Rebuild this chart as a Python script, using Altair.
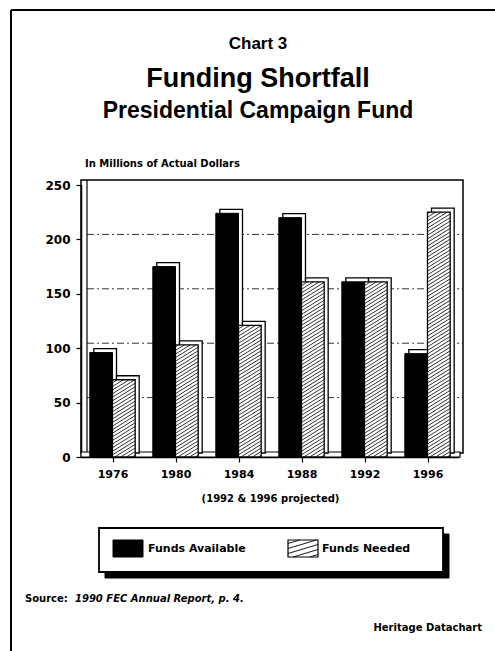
import altair as alt
import pandas as pd

# ---------------- data ----------------
years = ["1976", "1980", "1984", "1988", "1992", "1996"]
funds_available = [96, 175, 224, 220, 161, 95]
funds_needed = [71, 103, 121, 161, 161, 225]
y_ticks = [0, 50, 100, 150, 200, 250]
grid_values = [50, 100, 150, 200]
series_names = ["Funds Available", "Funds Needed"]

# ---------------- geometry / style ----------------
W, H = 378, 272
PL, PT = 81, 185
BW = 0.36          # bar width in slot units
DX, DY = 4, 4      # 3-D depth offset (px)
HATCH_RISE_PX = 14
HATCH_STEP_PX = 3.6
BOLD = "DejaVu Sans"
HEAD = "Liberation Sans"

pos = list(range(len(years)))
bars = pd.DataFrame({"pos": pos, "year": years,
                     "avail": funds_available, "need": funds_needed})
bars["a0"] = bars["pos"] - BW
bars["a1"] = bars["pos"]
bars["n0"] = bars["pos"]
bars["n1"] = bars["pos"] + BW
bars["base"] = 0

# hatch lines for "Funds Needed" bars (data units, derived from the values)
y_per_px = 250 / H
rise = HATCH_RISE_PX * y_per_px
step = HATCH_STEP_PX * y_per_px
rows = []
for _, r in bars.iterrows():
    h = r["need"]
    c = -rise + step / 2
    while c < h:
        xa, ya = r["n0"], c
        xb, yb = r["n1"], c + rise
        if ya < 0:
            xa = r["n0"] + (-c) / rise * BW
            ya = 0
        if yb > h:
            xb = r["n0"] + (h - c) / rise * BW
            yb = h
        if xb > xa:
            rows.append({"xa": xa, "xb": xb, "ya": ya, "yb": yb})
        c += step
hatch = pd.DataFrame(rows)

grid = pd.DataFrame({"v": grid_values})

xs = alt.Scale(domain=[-0.5, 5.5], nice=False, zero=False)
ys = alt.Scale(domain=[0, 250], nice=False)

label_expr = "[" + ",".join("'%s'" % y for y in years) + "][datum.value]"
x_axis = alt.Axis(values=pos, labelExpr=label_expr, title="(1992 & 1996 projected)",
                  grid=False, domain=True, domainColor="black", domainWidth=1.5,
                  ticks=True, tickSize=5, tickColor="black", tickWidth=1.2,
                  labelFont=BOLD, labelFontWeight="bold", labelFontSize=11,
                  labelColor="black", labelPadding=6, labelFlush=False,
                  titleFont=BOLD, titleFontWeight="bold", titleFontSize=10,
                  titleColor="black", titlePadding=14)
y_axis = alt.Axis(values=y_ticks, title=None, grid=False, domain=True,
                  domainColor="black", domainWidth=1.5, ticks=True, tickSize=5,
                  tickColor="black", tickWidth=1.2, labelFont=BOLD,
                  labelFontWeight="bold", labelFontSize=12, labelColor="black",
                  labelPadding=6)

one = alt.Data(values=[{"k": 1}])


def text(txt, x, y, size, align="center", font=BOLD, style="normal"):
    return alt.Chart(one).mark_text(
        text=txt, align=align, baseline="middle", font=font, fontSize=size,
        fontWeight="bold", fontStyle=style, color="black"
    ).encode(x=alt.value(x), y=alt.value(y))


def box(x, x2, y, y2, fill=None, stroke="black", sw=1.5):
    kw = dict(stroke=stroke, strokeWidth=sw)
    if fill is None:
        kw["fillOpacity"] = 0
        kw["fill"] = "white"
    else:
        kw["fill"] = fill
    return alt.Chart(one).mark_rect(**kw).encode(
        x=alt.value(x), x2=alt.value(x2), y=alt.value(y), y2=alt.value(y2))


def rule(x, x2, y, y2, sw=1.5):
    return alt.Chart(one).mark_rule(color="black", strokeWidth=sw).encode(
        x=alt.value(x), x2=alt.value(x2), y=alt.value(y), y2=alt.value(y2))


def X(f):
    return alt.X(f, scale=xs, axis=x_axis)


def Y(f):
    return alt.Y(f, scale=ys, axis=y_axis)


base = alt.Chart(bars)
layers = []

# page frame
layers.append(rule(-70, -70, -175, 470, sw=2))
layers.append(rule(-70, 420, -175, -175, sw=2))

# back wall + left side
layers.append(box(0, 382, -5, 268, sw=1.5))
layers.append(rule(6, 6, -5, 268, sw=1.2))

# gridlines on the back wall
layers.append(
    alt.Chart(grid).mark_rule(color="black", strokeWidth=1, strokeDash=[7, 3, 2, 3],
                              yOffset=-DY - 1, opacity=0.8)
    .encode(y=Y("v:Q"), x=alt.value(6), x2=alt.value(382))
)

# floor
layers.append(box(0, 379, 267, 272, fill="white", sw=1.2))

# Funds Available: depth face, front face
layers.append(base.mark_rect(fill="white", stroke="black", strokeWidth=1.3,
                             xOffset=DX, x2Offset=DX, yOffset=-DY, y2Offset=-DY)
              .encode(x=X("a0:Q"), x2="a1:Q", y=Y("avail:Q"), y2="base:Q"))
layers.append(base.mark_rect(fill="black", stroke="black", strokeWidth=1)
              .encode(x=X("a0:Q"), x2="a1:Q", y=Y("avail:Q"), y2="base:Q"))

# Funds Needed: depth face, front face, hatch
layers.append(base.mark_rect(fill="white", stroke="black", strokeWidth=1.3,
                             xOffset=DX, x2Offset=DX, yOffset=-DY, y2Offset=-DY)
              .encode(x=X("n0:Q"), x2="n1:Q", y=Y("need:Q"), y2="base:Q"))
layers.append(base.mark_rect(fill="white", stroke="black", strokeWidth=1.3)
              .encode(x=X("n0:Q"), x2="n1:Q", y=Y("need:Q"), y2="base:Q"))
layers.append(alt.Chart(hatch).mark_rule(color="black", strokeWidth=0.8)
              .encode(x=X("xa:Q"), x2="xb:Q", y=Y("ya:Q"), y2="yb:Q"))

# titles
CX = 177
layers.append(text("Chart 3", CX, -141, 17, font=HEAD))
layers.append(text("Funding Shortfall", CX, -106, 27, font=HEAD))
layers.append(text("Presidential Campaign Fund", CX, -74, 23, font=HEAD))
layers.append(text("In Millions of Actual Dollars", 4, -21, 10, align="left"))

# legend (custom, with hatched swatch)
layers.append(box(24, 368, 349, 393, fill="black", sw=1))
layers.append(box(18, 362, 343, 387, fill="white", sw=1.8))
layers.append(box(32, 62, 355, 372, fill="black", sw=1))
layers.append(text(series_names[0], 67, 364, 11, align="left"))
layers.append(box(207, 237, 355, 372, fill="white", sw=1.2))
sw_x0, sw_x1, sw_top, sw_bot = 207, 237, 355, 372
sw_w, sw_h = sw_x1 - sw_x0, sw_bot - sw_top
lg_rise = 9.0
c = -lg_rise + 2.5
while c < sw_h:
    xa, ya = 0.0, c
    xb, yb = float(sw_w), c + lg_rise
    if ya < 0:
        xa = (-c) / lg_rise * sw_w
        ya = 0
    if yb > sw_h:
        xb = (sw_h - c) / lg_rise * sw_w
        yb = sw_h
    if xb > xa:
        layers.append(rule(sw_x0 + xa, sw_x0 + xb, sw_bot - ya, sw_bot - yb, sw=0.9))
    c += 5
layers.append(text(series_names[1], 241, 364, 11, align="left"))

# source / credit
layers.append(text("Source:", -56, 414, 10, align="left"))
layers.append(text("1990 FEC Annual Report, p. 4.", -6, 414, 10, align="left", style="italic"))
layers.append(text("Heritage Datachart", 401, 443, 10, align="right"))

chart = alt.layer(*layers).properties(
    width=W, height=H,
    padding={"left": PL, "top": PT, "right": 495 - PL - W, "bottom": 651 - PT - H},
    autosize=alt.AutoSizeParams(type="none"),
    background="white",
).configure_view(stroke=None)

chart.save("out.html", embed_options={"renderer": "svg", "actions": False})
